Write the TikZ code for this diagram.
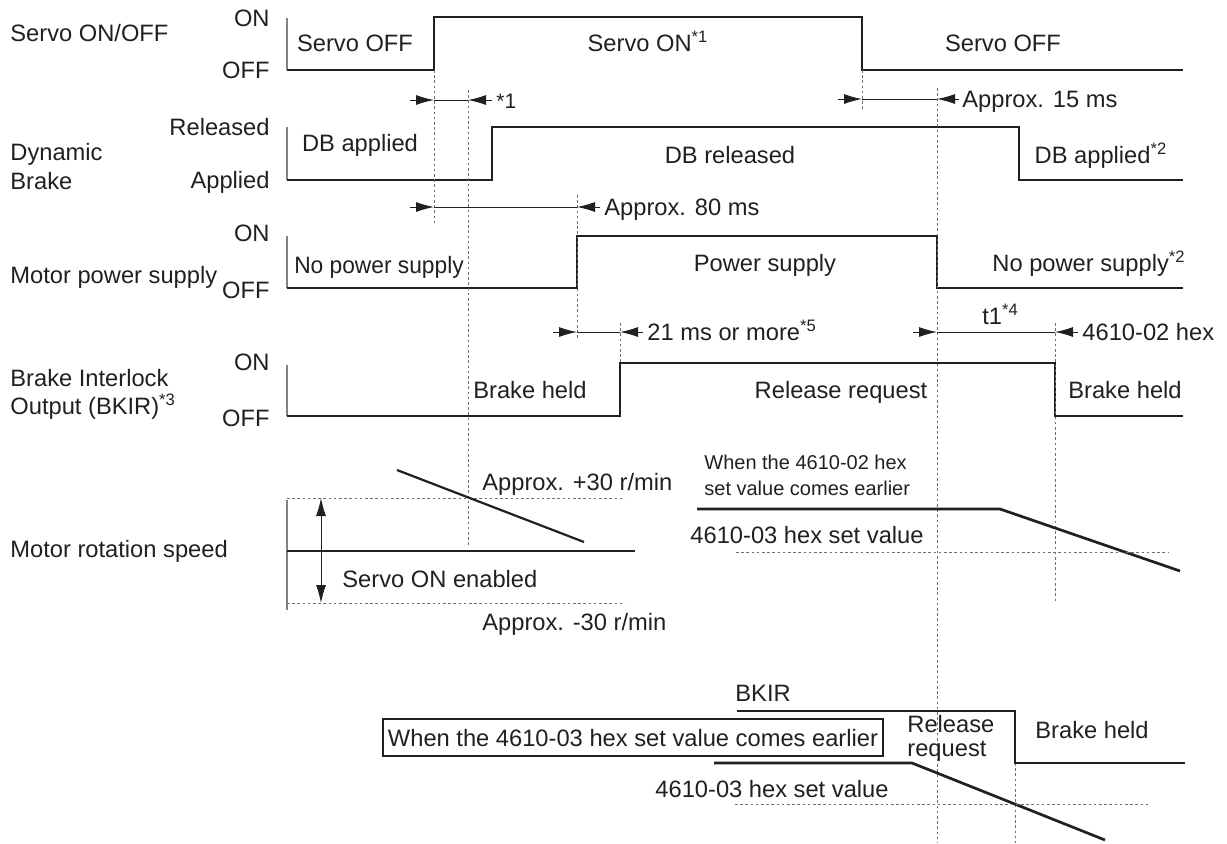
\documentclass[tikz,border=0pt]{standalone}
\usepackage{fontspec}
\setmainfont{Liberation Sans}
\usetikzlibrary{arrows.meta,positioning}
\definecolor{ink}{HTML}{231F20}
\definecolor{guidec}{HTML}{6D6E71}
\definecolor{axisc}{HTML}{808285}

\begin{document}
\begin{tikzpicture}[
  x=0.5pt, y=-0.5pt,
  font=\fontsize{11.85}{13}\selectfont, >={Latex[length=9pt,width=5pt]},
  every node/.append style={text=ink, inner sep=0pt, text height=8.5pt, text depth=0pt},
  sig/.style={draw=ink, line width=1.35pt},
  ramp/.style={draw=ink, line width=1.1pt},
  axisline/.style={draw=axisc, line width=0.75pt},
  guide/.style={draw=guidec, line width=0.5pt, dash pattern=on 1.3pt off 1.3pt},
  dim/.style={draw=ink, line width=0.5pt},
  rowname/.style={anchor=west},
  level/.style={anchor=east},
  state/.style={anchor=center},
  note/.style={anchor=west},
  twoline/.style={anchor=west, align=left, text height=, text depth=},
]
\useasboundingbox (0,0) rectangle (1227,843);
% (a) servo on/off
\node[rowname] (servoname) at (10,33) {Servo ON/OFF};
\node[level] (servohi) at (270,18) {ON};
\node[level] (servolo) at (270,70) {OFF};
\draw[axisline] (287,18) -- (287,70);
\draw[sig] (287,70) -- (434,70) -- (434,17) -- (862,17) -- (862,70) -- (1183,70);
\node[state] (servooff1) at (355,43) {Servo OFF};
\node[state] (servoon) at (648,43) {Servo ON\textsuperscript{*1}};
\node[state] (servooff2) at (1003,43) {Servo OFF};
% (b) dynamic brake
\node[rowname] (dbname) at (10,152) {Dynamic};
\node[rowname, below=5.5pt of dbname.south west, anchor=north west] (dbname2) {Brake};
\node[level] (dbhi) at (270,127) {Released};
\node[level] (dblo) at (270,180) {Applied};
\draw[axisline] (287,127) -- (287,180);
\draw[sig] (287,180) -- (492,180) -- (492,127) -- (1019,127) -- (1019,180) -- (1183,180);
\node[state] (dbapp1) at (360,143) {DB applied};
\node[state] (dbrel) at (730,155) {DB released};
\node[state] (dbapp2) at (1101,155) {DB applied\textsuperscript{*2}};
% (c) motor power supply
\node[rowname] (mpname) at (10,275) {Motor power supply};
\node[level] (mphi) at (270,233) {ON};
\node[level] (mplo) at (270,290) {OFF};
\draw[axisline] (287,236) -- (287,288);
\draw[sig] (287,288) -- (577,288) -- (577,236) -- (937,236) -- (937,288) -- (1183,288);
\node[state, xscale=0.96] (nopow1) at (379,265) {No power supply};
\node[state] (pow) at (765,263) {Power supply};
\node[state] (nopow2) at (1089,263) {No power supply\textsuperscript{*2}};
% (d) brake interlock output
\node[rowname] (bkname) at (10,378) {Brake Interlock};
\node[rowname] (bkname2) at (10,406) {Output (BKIR)\textsuperscript{*3}};
\node[level] (bkhi) at (270,362) {ON};
\node[level] (bklo) at (270,418) {OFF};
\draw[axisline] (287,365) -- (287,416);
\draw[sig] (287,416) -- (620,416) -- (620,363) -- (1055,363) -- (1055,416) -- (1183,416);
\node[state] (held1) at (530,390) {Brake held};
\node[state] (relreq) at (841,390) {Release request};
\node[state] (held2) at (1125,390) {Brake held};
% guides
\draw[guide] (434,70) -- (434,223);
\draw[guide] (468,90) -- (468,545);
\draw[guide] (862,70) -- (862,110);
\draw[guide] (937,88) -- (937,843);
\draw[guide] (577,195) -- (577,338);
\draw[guide] (620,323) -- (620,363);
\draw[guide] (1055,323) -- (1055,603);
\draw[guide] (1015,763) -- (1015,843);
% timing marks
\draw[dim,->] (410,100) -- (434,100);
\draw[dim] (434,100) -- (468,100);
\draw[dim,->] (492,100) -- (468,100);
\node[note, font=\fontsize{10.5}{12}\selectfont] (star1) at (496,100) {*1};
\draw[dim,->] (838,99) -- (862,99);
\draw[dim] (862,99) -- (937,99);
\draw[dim,->] (959,99) -- (937,99);
\node[note] (ms15) at (962,99) {Approx. 15 ms};
\draw[dim,->] (410,207) -- (434,207);
\draw[dim] (434,207) -- (577,207);
\draw[dim,->] (600,207) -- (577,207);
\node[note] (ms80) at (604,207) {Approx. 80 ms};
\draw[dim,->] (553,332) -- (577,332);
\draw[dim] (577,332) -- (620,332);
\draw[dim,->] (643,332) -- (620,332);
\node[note] (ms21) at (647,332) {21 ms or more\textsuperscript{*5}};
\draw[dim,->] (913,332) -- (937,332);
\draw[dim] (937,332) -- (1055,332);
\draw[dim,->] (1078,332) -- (1055,332);
\node[note] (tone) at (982,316) {t1\textsuperscript{*4}};
\node[note] (hex02) at (1082,332) {4610-02 hex};
% (e) motor rotation speed
\node[rowname] (spname) at (10,549) {Motor rotation speed};
\draw[axisline] (287,500) -- (287,610);
\draw[dim, line width=0.6pt] (287,551) -- (635,551);
\draw[guide] (287,498) -- (625,498);
\draw[guide] (287,603) -- (625,603);
\draw[dim,<->] (321,498) -- (321,603);
\draw[ramp] (397,470) -- (584,542);
\node[note] (plus30) at (482,482) {Approx. +30 r/min};
\node[note] (enab) at (342,579) {Servo ON enabled};
\node[note] (minus30) at (482,622) {Approx. -30 r/min};
\node[twoline, font=\fontsize{10}{13}\selectfont] (case02) at (704,475) {When the 4610-02 hex\\set value comes earlier};
\draw[sig] (697,509) -- (1000,509) -- (1180,571);
\node[note] (set03a) at (690,535) {4610-03 hex set value};
\draw[guide] (736,552) -- (1168,552);
% (f) case: 4610-03 hex comes earlier
\node[note] (bkir) at (735,693) {BKIR};
\draw[sig] (737,711) -- (1015,711) -- (1015,763) -- (1185,763);
\node[draw=ink, line width=0.8pt, minimum width=250pt, minimum height=18.5pt] (case03) at (633,737.5) {When the 4610-03 hex set value comes earlier};
\draw[sig] (714,763) -- (912,763) -- (1105,840);
\node[note] (set03b) at (655,789) {4610-03 hex set value};
\draw[guide] (735,804) -- (1148,804);
\node[twoline, font=\fontsize{11.85}{12}\selectfont] (relreq2) at (907,738) {Release\\request};
\node[note] (held3) at (1035,730) {Brake held};
\end{tikzpicture}
\end{document}
